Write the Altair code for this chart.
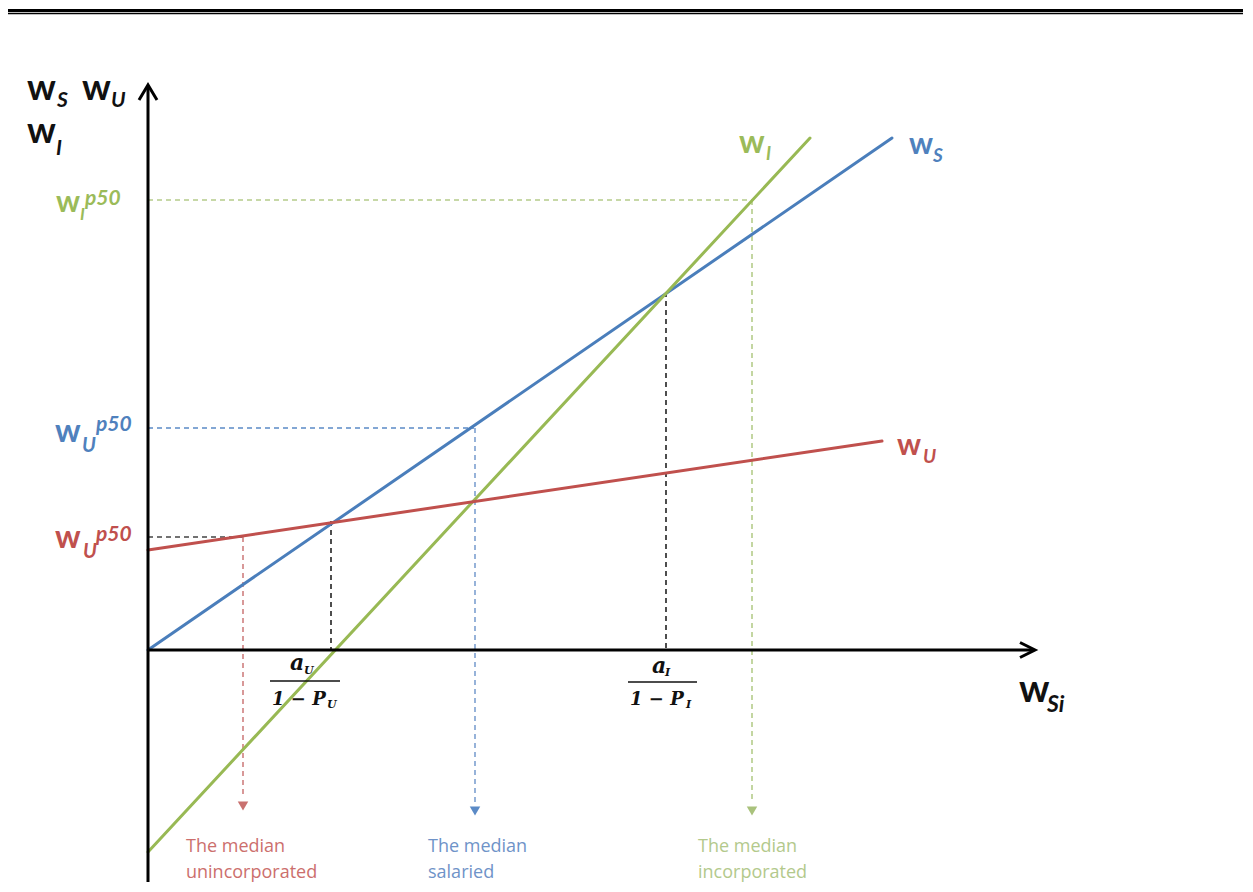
import altair as alt
import pandas as pd

# ---------------- data (diagram units: 1 unit = 100 px of the original) -------------
# solid wage lines
line_names = ["w_S", "w_I", "w_U"]
line_x0 = [0.0, 0.0, 0.0]
line_y0 = [0.0, -2.02, 1.0]
line_x1 = [7.44, 6.62, 7.34]
line_y1 = [5.12, 5.12, 2.09]
line_colors = ["#4a7ebb", "#98b954", "#c0504d"]

# dashed guides
guide_x0 = [0.0, 6.04, 0.0, 3.27, 0.0, 0.95, 1.83, 5.18]
guide_y0 = [4.50, 4.50, 2.22, 2.22, 1.13, 1.13, 1.29, 3.58]
guide_x1 = [6.04, 6.04, 3.26, 3.27, 0.95, 0.95, 1.83, 5.18]
guide_y1 = [4.50, -1.52, 2.22, -1.52, 1.13, -1.48, 0.0, 0.0]
guide_colors = ["#b5cc8a", "#b5cc8a", "#5b8ac6", "#7da0d0", "#444444",
                "#cf7f7f", "#222222", "#222222"]

# small arrow heads at the bottom of the vertical guides
head_x = [0.95, 3.27, 6.04]
head_y = [-1.56, -1.61, -1.61]
head_colors = ["#c9716f", "#5b8ac6", "#a9c27c"]

# axes
axis_x0 = [0.0, 0.0]
axis_y0 = [-2.32, 0.0]
axis_x1 = [0.0, 8.85]
axis_y1 = [5.63, 0.0]

# header double rule
hdr_y = [6.395, 6.365]
hdr_w = [3.0, 1.5]

# labels: main "w" glyphs (bold)
w_x = [-1.21, -0.66, -1.21, -0.92, -0.93, -0.93, 5.91, 7.61, 7.49, 8.71]
w_y = [5.50, 5.50, 5.07, 4.38, 2.08, 1.02, 4.97, 4.96, 1.95, -0.52]
w_size = [36, 36, 36, 30, 32, 32, 32, 30, 30, 38]
w_color = ["#111111", "#111111", "#111111", "#9bbb59", "#4f81bd", "#c0504d",
           "#9bbb59", "#4f81bd", "#c0504d", "#111111"]

# sub / superscripts (italic)
s_text = ["S", "U", "I", "I", "p50", "U", "p50", "U", "p50", "I", "S", "U", "Si"]
s_x = [-0.91, -0.37, -0.92, -0.68, -0.63, -0.66, -0.52, -0.65, -0.52, 6.18, 7.85, 7.75, 8.99]
s_y = [5.43, 5.43, 4.95, 4.30, 4.45, 1.98, 2.19, 0.92, 1.09, 4.90, 4.88, 1.87, -0.62]
s_size = [21, 21, 21, 17, 21, 20, 21, 20, 21, 18, 19, 19, 23]
s_color = ["#111111", "#111111", "#111111", "#9bbb59", "#9bbb59", "#4f81bd", "#4f81bd",
           "#c0504d", "#c0504d", "#9bbb59", "#4f81bd", "#c0504d", "#111111"]

# fraction labels on the x axis (serif, bold italic)
f_text = ["a", "U", "1 − P", "U", "a", "I", "1 − P", "I"]
f_x = [1.42, 1.56, 1.24, 1.79, 5.04, 5.17, 4.82, 5.38]
f_y = [-0.20, -0.24, -0.55, -0.58, -0.23, -0.26, -0.55, -0.58]
f_size = [22, 11, 18, 11, 22, 11, 18, 11]
bar_x0 = [1.22, 4.80]
bar_x1 = [1.92, 5.49]
bar_y = [-0.31, -0.32]

# captions
cap_text = ["The median", "unincorporated", "The median", "salaried",
            "The median", "incorporated"]
cap_x = [0.38, 0.38, 2.80, 2.80, 5.50, 5.50]
cap_y = [-2.02, -2.28, -2.02, -2.28, -2.02, -2.28]
cap_color = ["#cc6f6d", "#cc6f6d", "#6f93c8", "#6f93c8", "#b3c98c", "#b3c98c"]

# ---------------- chart -------------------------------------------------------------
XS = alt.Scale(domain=[-1.40, 10.95], nice=False, zero=False)
YS = alt.Scale(domain=[-2.32, 6.42], nice=False, zero=False)


def X(f):
    return alt.X(f, type="quantitative", scale=XS, axis=None)


def Y(f):
    return alt.Y(f, type="quantitative", scale=YS, axis=None)


lines = pd.DataFrame({"name": line_names, "x0": line_x0, "y0": line_y0,
                      "x1": line_x1, "y1": line_y1, "c": line_colors})
guides = pd.DataFrame({"x0": guide_x0, "y0": guide_y0, "x1": guide_x1,
                       "y1": guide_y1, "c": guide_colors})
heads = pd.DataFrame({"x": head_x, "y": head_y, "c": head_colors})
axes = pd.DataFrame({"x0": axis_x0, "y0": axis_y0, "x1": axis_x1, "y1": axis_y1})
hdr = pd.DataFrame({"x0": [-1.40, -1.40], "x1": [10.95, 10.95], "y": hdr_y, "w": hdr_w})
wdf = pd.DataFrame({"t": ["w"] * len(w_x), "x": w_x, "y": w_y, "s": w_size, "c": w_color})
sdf = pd.DataFrame({"t": s_text, "x": s_x, "y": s_y, "s": s_size, "c": s_color})
fdf = pd.DataFrame({"t": f_text, "x": f_x, "y": f_y, "s": f_size})
bars = pd.DataFrame({"x0": bar_x0, "x1": bar_x1, "y": bar_y})
caps = pd.DataFrame({"t": cap_text, "x": cap_x, "y": cap_y, "c": cap_color})
tips = pd.DataFrame({"x": [0.0, 8.87], "y": [5.65, 0.0],
                     "shape": ["M-0.6,1L0,0L0.6,1", "M-1,-0.5L0,0L-1,0.5"]})

header = alt.Chart(hdr).mark_rule(color="#000000").encode(
    x=X("x0"), x2="x1", y=Y("y"), strokeWidth=alt.StrokeWidth("w:Q", scale=None))

guide_layer = alt.Chart(guides).mark_rule(strokeWidth=1.6, strokeDash=[5, 4]).encode(
    x=X("x0"), y=Y("y0"), x2="x1", y2="y1", color=alt.Color("c:N", scale=None))

head_layer = alt.Chart(heads).mark_point(shape="triangle-down", filled=True, size=110,
                                         opacity=1).encode(
    x=X("x"), y=Y("y"), color=alt.Color("c:N", scale=None))

line_layer = alt.Chart(lines).mark_rule(strokeWidth=3, strokeCap="round").encode(
    x=X("x0"), y=Y("y0"), x2="x1", y2="y1", color=alt.Color("c:N", scale=None))

axis_layer = alt.Chart(axes).mark_rule(strokeWidth=3, color="#000000").encode(
    x=X("x0"), y=Y("y0"), x2="x1", y2="y1")

tip_layers = [
    alt.Chart(tips.iloc[[i]]).mark_point(shape=tips["shape"][i], filled=False, size=900,
                                         stroke="#000000", strokeWidth=3, opacity=1,
                                         strokeJoin="miter").encode(x=X("x"), y=Y("y"))
    for i in range(len(tips))
]

w_layer = alt.Chart(wdf).mark_text(font="Lato", fontWeight="bold", align="left",
                                   baseline="alphabetic").encode(
    x=X("x"), y=Y("y"), text="t:N", size=alt.Size("s:Q", scale=None),
    color=alt.Color("c:N", scale=None))

s_layer = alt.Chart(sdf).mark_text(font="Lato", fontWeight="bold", fontStyle="italic",
                                   align="left", baseline="alphabetic").encode(
    x=X("x"), y=Y("y"), text="t:N", size=alt.Size("s:Q", scale=None),
    color=alt.Color("c:N", scale=None))

f_layer = alt.Chart(fdf).mark_text(font="DejaVu Serif", fontWeight="bold",
                                   fontStyle="italic", align="left",
                                   baseline="alphabetic", color="#111111").encode(
    x=X("x"), y=Y("y"), text="t:N", size=alt.Size("s:Q", scale=None))

bar_layer = alt.Chart(bars).mark_rule(strokeWidth=1.5, color="#111111").encode(
    x=X("x0"), x2="x1", y=Y("y"))

cap_layer = alt.Chart(caps).mark_text(font="Open Sans", fontSize=18, align="left",
                                      baseline="alphabetic").encode(
    x=X("x"), y=Y("y"), text="t:N", color=alt.Color("c:N", scale=None))

chart = alt.layer(
    header, guide_layer, head_layer, line_layer, axis_layer, *tip_layers,
    bar_layer, f_layer, w_layer, s_layer, cap_layer,
).properties(
    width=1235, height=874, padding=0,
    autosize=alt.AutoSizeParams(type="none"),
    background="#ffffff",
).configure_view(stroke=None)

chart.save("out.html", embed_options={"renderer": "svg", "actions": False})
